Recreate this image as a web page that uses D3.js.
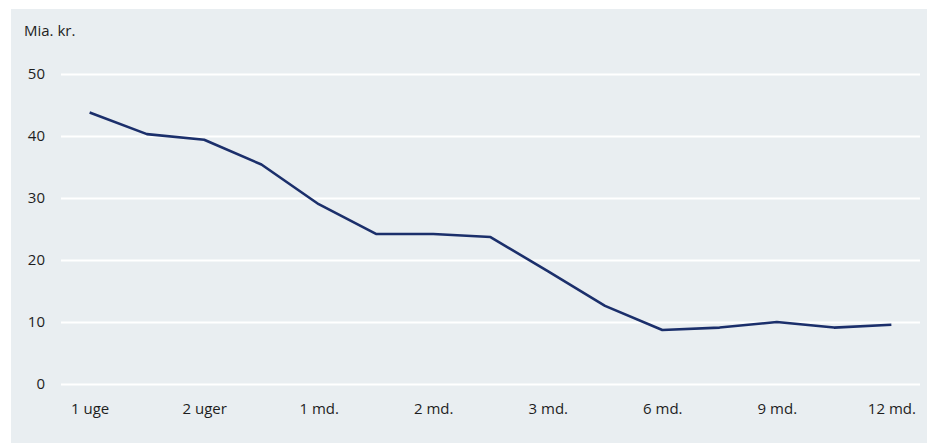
<!DOCTYPE html>
<html>
<head>
<meta charset="utf-8">
<script src="https://cdn.jsdelivr.net/npm/d3@7"></script>
<style>
  body { margin: 0; background: #fff; }
  text { font-family: "Open Sans", sans-serif; fill: #1e1e1e; }
</style>
</head>
<body>
<svg width="927" height="443"></svg>
<script>
// 15 maturity points, label on every second one
const labels = ["1 uge", "", "2 uger", "", "1 md.", "", "2 md.", "", "3 md.", "", "6 md.", "", "9 md.", "", "12 md."];
const values = [43.8, 40.3, 39.4, 35.4, 29.0, 24.2, 24.2, 23.7, 18.2, 12.6, 8.7, 9.1, 10.0, 9.1, 9.55];
const yTicks = [0, 10, 20, 30, 40, 50];
const unitLabel = "Mia. kr.";

const width = 927;
const height = 443;

const svg = d3.select('svg');

svg.append('rect')
  .attr('x', 11)
  .attr('y', 9)
  .attr('width', width - 11)
  .attr('height', height - 9)
  .attr('fill', '#e9eef1');

const x = d3.scalePoint()
  .domain(d3.range(labels.length))
  .range([61, 920])
  .padding(0.5);

const y = d3.scaleLinear()
  .domain([0, 50])
  .range([384, 74]);

// gridlines + y labels
const yAxis = svg.append('g')
  .attr('transform', 'translate(61,0)')
  .call(d3.axisLeft(y).tickValues(yTicks).tickSize(-(920 - 61)).tickPadding(16));

yAxis.select('.domain').remove();
yAxis.selectAll('.tick line')
  .attr('stroke', '#fff')
  .attr('stroke-width', 2);
yAxis.selectAll('.tick text')
  .style('font-size', '15px')
  .attr('fill', '#1e1e1e');

// x labels
const xAxis = svg.append('g')
  .attr('transform', 'translate(0,400)')
  .call(d3.axisBottom(x).tickSize(0).tickPadding(0).tickFormat(i => labels[i]));

xAxis.select('.domain').remove();
xAxis.selectAll('.tick text')
  .style('font-size', '15px')
  .attr('dy', '0.71em')
  .attr('y', 3)
  .attr('fill', '#1e1e1e');

svg.append('text')
  .attr('x', 24)
  .attr('y', 36)
  .style('font-size', '15px')
  .text(unitLabel);

const line = d3.line()
  .x((d, i) => x(i))
  .y(d => y(d));

svg.append('path')
  .datum(values)
  .attr('d', line)
  .attr('fill', 'none')
  .attr('stroke', '#1b2f6b')
  .attr('stroke-width', 2.6)
  .attr('stroke-linejoin', 'round');
</script>
</body>
</html>
